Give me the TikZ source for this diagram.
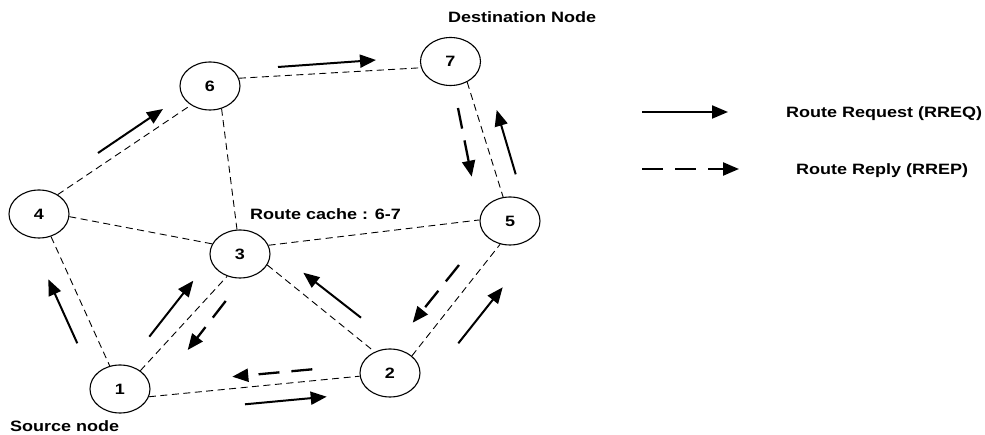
\documentclass[tikz,border=0pt]{standalone}
\usepackage{fontspec}
\setmainfont{Liberation Sans}[FakeStretch=1.2]
\usetikzlibrary{arrows.meta,shapes.geometric}
\begin{document}
\begin{tikzpicture}[x=1bp,y=-1bp,
  font=\fontsize{15bp}{18bp}\selectfont\bfseries,
  peer/.style={ellipse, draw, line width=1.1bp, minimum width=60bp,
    minimum height=48bp, inner sep=0pt},
  link/.style={line width=0.9bp, dash pattern=on 7bp off 4.5bp},
  rreq/.style={line width=2bp, -{Triangle[length=16bp,width=13bp]}},
  rrep/.style={rreq, line width=2.3bp, dash pattern=on 21bp off 12bp},
  lbl/.style={inner sep=0pt, anchor=base west}]
\fill[white] (0,0) rectangle (985,435);
\useasboundingbox (0,0) rectangle (985,435);

% mobile nodes
\node[peer] (n1) at (120,389) {1};
\node[peer] (n2) at (390,373) {2};
\node[peer] (n3) at (240,254) {3};
\node[peer] (n4) at (39,214) {4};
\node[peer] (n5) at (510,221) {5};
\node[peer] (n6) at (210,86) {6};
\node[peer] (n7) at (450.5,61.5) {7};

% wireless links
\draw[link] (n4.46) -- (n6.225);
\draw[link] (n6.15) -- (n7.192);
\draw[link] (n6.-63) -- (n3.97);
\draw[link] (n4.-5) -- (n3.160);
\draw[link] (n3.17) -- (n5.178);
\draw[link] (n4.-62) -- (n1.114);
\draw[link] (n1.42) -- (n3.-120);
\draw[link] (n3.-22) -- (n2.126);
\draw[link] (n1.-15) -- (n2.186);
\draw[link] (n2.38) -- (n5.-113);
\draw[link] (n7.-51) -- (n5.106);

% route request flooding
\draw[rreq] (98,153) -- (163,109);
\draw[rreq] (278,67) -- (376,60);
\draw[rreq] (515.7,174.3) -- (496.7,110);
\draw[rreq] (77.3,343.3) -- (48.3,279.3);
\draw[rreq] (149.3,336.7) -- (193.3,280.7);
\draw[rreq] (361,317.7) -- (303.3,272.7);
\draw[rreq] (458.3,343.3) -- (502.7,287.3);
\draw[rreq] (245,404.3) -- (326.7,396.7);

% route replies
\draw[rrep] (458,108) -- (471.7,176.7);
\draw[rrep] (225.7,301) -- (187.7,350);
\draw[rrep] (459,265) -- (412.7,322.7);
\draw[rrep] (312.3,369.3) -- (232.3,376.7);

% labels
\node[lbl] (dst) at (448,23) {Destination Node};
\node[lbl] (cache) at (250,220) {Route cache : 6-7};
\node[lbl] (src) at (10,431.5) {Source node};

% legend
\coordinate (qa) at (642,112);
\coordinate (qb) at (728,112);
\coordinate (pa) at (642,169);
\coordinate (pb) at (739,169);
\draw[rreq] (qa) -- (qb);
\draw[rrep] (pa) -- (pb);
\node[lbl] (kreq) at (786,117.5) {Route Request (RREQ)};
\node[lbl] (krep) at (796,175) {Route Reply (RREP)};
\end{tikzpicture}
\end{document}
